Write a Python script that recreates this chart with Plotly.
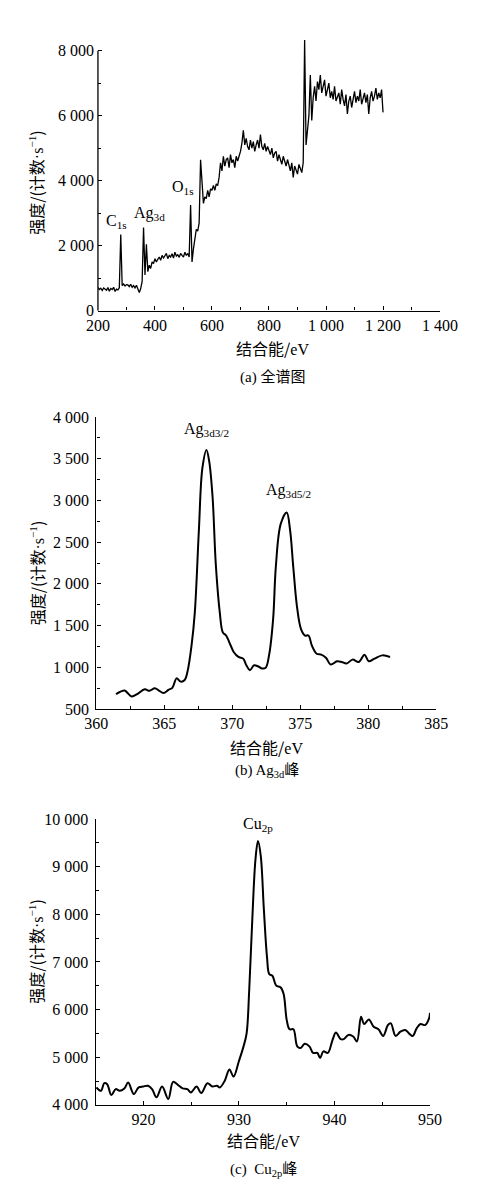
import plotly.graph_objects as go

# ---- (a) survey spectrum, 5 eV grid ----
SURVEY_EV = list(range(200, 1201, 5))
SURVEY_COUNTS = [
    720, 650, 690, 620, 700, 660, 630, 710, 600, 680,
    650, 720, 590, 660, 640, 700,
    2340,
    770, 820, 760, 800, 790, 740, 810, 720, 770, 700,
    780, 660, 560, 680, 900,
    2560,
    1100, 2040, 1200, 1400, 1300, 1500, 1450, 1600, 1500, 1580,
    1650, 1550, 1700, 1620, 1680, 1760, 1600, 1700, 1650, 1750,
    1620, 1800, 1680, 1720, 1640, 1760, 1700, 1650, 1800, 1700,
    1760, 1650,
    3250,
    1500, 1900, 2300, 2500, 2450, 2700,
    4640,
    3750, 3300, 3500, 3450, 3700, 3500, 3750, 3700, 3850, 3700,
    3900, 3850, 4100, 4550, 4300, 4750, 4450, 4650, 4700, 4400,
    4800, 4550, 4650, 4400, 4750, 4600, 4750, 4900, 5150, 5550,
    5100, 5300, 5050, 4950, 5250, 5000, 5200, 4900, 5100, 5250,
    5000, 5420, 5050, 4950, 5150, 4900, 5050, 4950, 4800, 5000,
    4700, 4850, 4900, 4600, 4800, 4650, 4500, 4750, 4600, 4450,
    4650, 4500, 4300, 4550, 4100, 4450, 4350, 4200, 4500, 4350,
    4250, 4550,
    8330,
    5100, 5600, 6000, 7250, 5850, 6550, 6900, 6450, 7050, 6800,
    7250, 6700, 6950, 7100, 6600, 6850, 7000, 6550, 6750, 6500,
    6900, 6450, 6600, 6700, 6350, 6800, 6500, 6300, 6650, 6050,
    6450, 6600, 6250, 6500, 6750, 6400, 6600, 6450, 6800, 6350,
    6550, 6700, 6400, 6650, 6050, 6550, 6750, 6450, 6600, 6850,
    6500, 6700, 6550, 6800, 6100,
]
SURVEY_LABELS = ["C<sub>1s</sub>", "Ag<sub>3d</sub>", "O<sub>1s</sub>", "Cu<sub>2p</sub>"]
SURVEY_LABEL_EV = [266, 381, 499, 929]
SURVEY_LABEL_CNT = [2750, 3000, 3780, 8860]

# ---- (b) Ag3d region ----
AG_EV = [
    361.45, 362.07, 362.3, 362.6, 363.0, 363.56, 363.9, 364.3, 364.6, 364.94,
    365.3, 365.6, 365.9, 366.2, 366.5, 366.7, 367.0, 367.24, 367.54, 367.8,
    368.1, 368.3, 368.55, 368.78, 369.08, 369.3, 369.54, 369.88, 370.1, 370.45,
    370.8, 371.03, 371.3, 371.6, 371.95, 372.18, 372.45, 372.7, 373.0, 373.2,
    373.56, 374.0, 374.25, 374.48, 374.75, 375.05, 375.35, 375.6, 375.85, 376.2,
    376.54, 376.9, 377.23, 377.7, 378.04, 378.4, 378.84, 379.3, 379.72, 380.04,
    380.45, 381.03, 381.6,
]
AG_COUNTS = [
    677, 720, 690, 650, 677, 736, 717, 748, 720, 690,
    728, 756, 866, 827, 847, 945, 1260, 1655, 2640, 3390,
    3606, 3468, 3035, 2246, 1655, 1418, 1380, 1260, 1182, 1123,
    1103, 1024, 965, 1024, 1005, 985, 993, 1142, 1576, 2207,
    2719, 2857, 2640, 2207, 1734, 1458, 1380, 1380, 1260, 1162,
    1150, 1110, 1032, 1071, 1063, 1044, 1091, 1063, 1150, 1071,
    1103, 1142, 1123,
]
AG_LABELS = ["Ag<sub>3d3/2</sub>", "Ag<sub>3d5/2</sub>"]
AG_LABEL_EV = [368.1, 374.1]
AG_LABEL_CNT = [3850, 3120]

# ---- (c) Cu2p region ----
CU_EV = [
    915.07, 915.56, 915.9, 916.2, 916.64, 917.1, 917.5, 918.0, 918.4, 918.99,
    919.5, 919.98, 920.48, 920.9, 921.36, 921.95, 922.6, 923.1, 923.6, 924.1,
    924.6, 924.97, 925.56, 926.05, 926.7, 927.2, 927.7, 928.0, 928.5, 929.0,
    929.43, 929.99, 930.48, 930.8, 931.07, 931.4, 931.73, 931.99, 932.28, 932.6,
    932.94, 933.17, 933.5, 933.9, 934.35, 934.67, 935.0, 935.3, 935.7, 936.1,
    936.45, 936.88, 937.37, 937.76, 938.2, 938.5, 938.84, 939.3, 939.8, 940.15,
    940.65, 940.97, 941.46, 941.96, 942.35, 942.78, 943.1, 943.6, 944.1, 944.6,
    945.1, 945.6, 945.9, 946.4, 946.9, 947.4, 947.85, 948.2, 948.6, 949.0,
    949.5, 949.9, 950.0,
]
CU_COUNTS = [
    4366, 4297, 4455, 4434, 4207, 4331, 4297, 4345, 4469, 4228,
    4366, 4386, 4400, 4331, 4159, 4386, 4124, 4483, 4421, 4345,
    4331, 4262, 4386, 4248, 4455, 4386, 4400, 4366, 4503, 4745,
    4593, 4917, 5228, 5503, 6400, 7917, 9159, 9538, 9228, 8124,
    7090, 6745, 6710, 6503, 6469, 6331, 5779, 5586, 5586, 5228,
    5193, 5283, 5228, 5090, 5090, 4986, 5124, 5090, 5366, 5517,
    5379, 5379, 5469, 5434, 5331, 5848, 5697, 5793, 5641, 5586,
    5448, 5676, 5710, 5448, 5538, 5572, 5490, 5448, 5607, 5697,
    5676, 5814, 5931,
]
CU_LABELS = ["Cu<sub>2p</sub>"]
CU_LABEL_EV = [932.0]
CU_LABEL_CNT = [9880]

SERIF = "Liberation Serif"
CJK = "Noto Sans CJK SC"

X_TITLE = "结合能/<span style='font-family:Liberation Serif'>eV</span>"
Y_TITLE = ("强度/(计数<span style='font-family:Liberation Serif'>·s<sup>−1</sup></span>)")
CAPTIONS = [
    "<span style='font-family:Liberation Serif'>(a) </span>全谱图",
    "<span style='font-family:Liberation Serif'>(b) Ag<sub>3d</sub></span>峰",
    "<span style='font-family:Liberation Serif'>(c)  Cu<sub>2p</sub></span>峰",
]

W, H = 478, 1196


def py(px):
    return 1 - px / H


def px_x(px):
    return px / W


fig = go.Figure()
fig.add_trace(go.Scatter(x=SURVEY_EV, y=SURVEY_COUNTS, mode="lines",
                         line=dict(color="black", width=1.3), xaxis="x", yaxis="y"))
fig.add_trace(go.Scatter(x=AG_EV, y=AG_COUNTS, mode="lines", line_shape="spline",
                         line=dict(color="black", width=2), xaxis="x2", yaxis="y2"))
fig.add_trace(go.Scatter(x=CU_EV, y=CU_COUNTS, mode="lines", line_shape="spline",
                         line=dict(color="black", width=2), xaxis="x3", yaxis="y3"))

axis_common = dict(showgrid=False, zeroline=False, showline=True, linecolor="black",
                   linewidth=1.3, ticks="inside", ticklen=4, tickwidth=1.2, tickcolor="black",
                   tickfont=dict(family=SERIF, size=16, color="black"), tickformat=",",
                   mirror=False)

panels = [
    # xdomain px, ydomain px (top, bottom), xrange, yrange, xtick0, xdtick, ytick0, ydtick
    ((91.7, 456.7), (30.1, 307), [200, 1400], [0, 8400], 200, 200, 0, 2000),
    ((90, 452.7), (415, 711), [360, 385], [500, 4000], 360, 5, 500, 500),
    ((89.3, 446), (822.7, 1112.7), [915, 950], [4000, 10000], 920, 10, 4000, 1000),
]
layout = {}
for n, (xd, yd, xr, yr, xt0, xdt, yt0, ydt) in enumerate(panels, start=1):
    sx = "" if n == 1 else str(n)
    layout["xaxis" + sx] = dict(axis_common, domain=[px_x(xd[0]), px_x(xd[1])], range=xr,
                                anchor="y" + sx, dtick=xdt, tick0=xt0,
                                minor=dict(ticks="inside", ticklen=3, dtick=xdt / 2,
                                           tick0=xt0, tickcolor="black", tickwidth=1.2))
    layout["yaxis" + sx] = dict(axis_common, domain=[py(yd[1]), py(yd[0])], range=yr,
                                anchor="x" + sx, dtick=ydt, tick0=yt0,
                                showline=(n != 1), ticklabelstandoff=3,
                                minor=dict(ticks="inside", ticklen=3, dtick=ydt / 2,
                                           tick0=yt0, tickcolor="black", tickwidth=1.2))

fig.update_layout(**layout)

# survey y-axis line stops at 8 000 while the Cu2p spike goes above it
fig.add_shape(type="line", xref="x domain", yref="y", x0=0, x1=0, y0=0, y1=8000,
              line=dict(color="black", width=1.3))

annotations = []
for ax, labels, evs, cnts in [
    ("", SURVEY_LABELS, SURVEY_LABEL_EV, SURVEY_LABEL_CNT),
    ("2", AG_LABELS, AG_LABEL_EV, AG_LABEL_CNT),
    ("3", CU_LABELS, CU_LABEL_EV, CU_LABEL_CNT),
]:
    for txt, ex, cy in zip(labels, evs, cnts):
        annotations.append(dict(x=ex, y=cy, xref="x" + ax, yref="y" + ax, text=txt,
                                showarrow=False, xanchor="center", yanchor="middle",
                                font=dict(family=SERIF, size=16, color="black")))

# axis titles and captions, placed in pixels
title_rows = [(278, 345, 373, 177), (272, 750, 772, 573), (268, 1148, 1177, 957)]
for (cx, ty, cy, ymid), cap in zip(title_rows, CAPTIONS):
    annotations.append(dict(x=px_x(cx), y=py(ty), xref="paper", yref="paper", text=X_TITLE,
                            showarrow=False, xanchor="center", yanchor="middle",
                            font=dict(family=CJK, size=16, color="black")))
    annotations.append(dict(x=px_x(cx), y=py(cy), xref="paper", yref="paper", text=cap,
                            showarrow=False, xanchor="center", yanchor="middle",
                            font=dict(family=CJK, size=15, color="black")))
    annotations.append(dict(x=px_x(26), y=py(ymid), xref="paper", yref="paper", text=Y_TITLE,
                            textangle=-90, showarrow=False, xanchor="center", yanchor="middle",
                            font=dict(family=CJK, size=16, color="black")))

fig.update_layout(
    width=W, height=H,
    margin=dict(l=0, r=0, t=0, b=0),
    paper_bgcolor="white", plot_bgcolor="white",
    font=dict(family=SERIF, color="black"),
    showlegend=False,
    separators=". ",
    annotations=annotations,
)

# the page body has an 8px default margin; drop it so the figure fills the window
fig.write_html("out.html", config={"displayModeBar": False},
               post_script="document.body.style.margin = '0';")
